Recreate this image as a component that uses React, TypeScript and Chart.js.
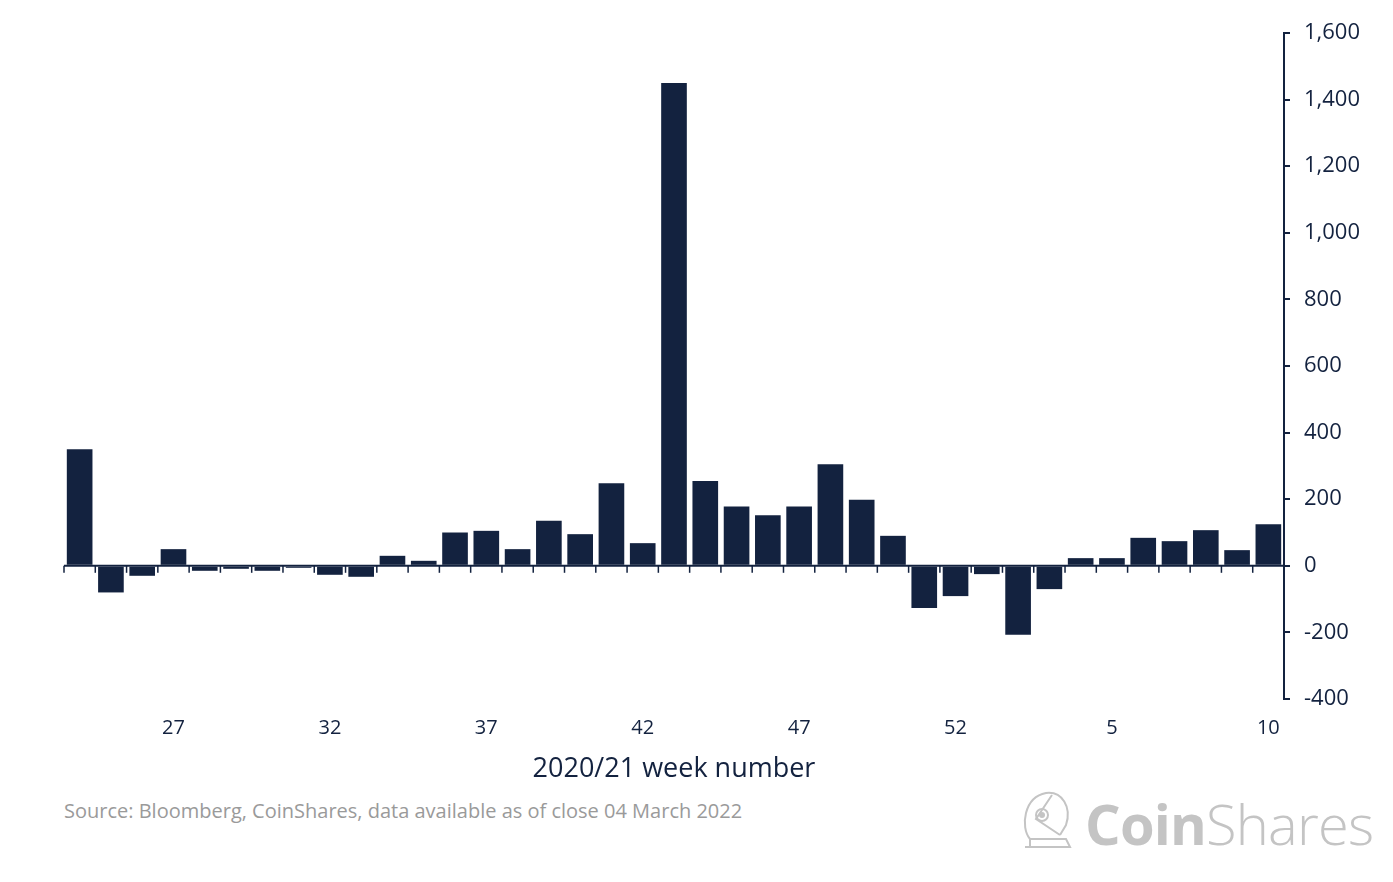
import React, { useEffect, useRef } from "react";
import { Chart, registerables } from "chart.js";

Chart.register(...registerables);

const weeks: string[] = [
  "24", "25", "26", "27", "28", "29", "30", "31", "32", "33", "34", "35", "36",
  "37", "38", "39", "40", "41", "42", "43", "44", "45", "46", "47", "48", "49",
  "50", "51", "52", "1", "2", "3", "4", "5", "6", "7", "8", "9", "10",
];
const flows: number[] = [
  350, -80, -30, 50, -15, -9, -15, -6, -27, -33, 30, 15, 100,
  105, 50, 135, 95, 248, 68, 1450, 255, 178, 152, 178, 305, 198,
  90, -127, -91, -25, -207, -70, 23, 23, 84, 74, 107, 47, 125,
];
const labelledWeeks: string[] = ["27", "32", "37", "42", "47", "52", "5", "10"];
const yTicks: number[] = [-400, -200, 0, 200, 400, 600, 800, 1000, 1200, 1400, 1600];

const NAVY = "#13223f";
const FONT = "'Open Sans', 'DejaVu Sans', sans-serif";

const zeroLinePlugin = {
  id: "zeroLine",
  afterDatasetsDraw(chart: any) {
    const { ctx, chartArea, scales } = chart;
    const x = scales.x;
    const y = scales.y;
    const y0 = y.getPixelForValue(0);
    ctx.save();
    ctx.strokeStyle = NAVY;
    ctx.lineWidth = 2;
    ctx.beginPath();
    ctx.moveTo(chartArea.left, y0);
    ctx.lineTo(chartArea.right, y0);
    ctx.stroke();
    ctx.lineWidth = 1.5;
    for (let i = 0; i <= weeks.length - 1; i++) {
      const px = i === 0 ? chartArea.left : (x.getPixelForValue(i - 1) + x.getPixelForValue(i)) / 2;
      ctx.beginPath();
      ctx.moveTo(px, y0);
      ctx.lineTo(px, y0 + 7);
      ctx.stroke();
    }
    ctx.restore();
  },
};

export default function App() {
  const ref = useRef<HTMLCanvasElement | null>(null);

  useEffect(() => {
    if (!ref.current) return;
    const chart = new Chart(ref.current, {
      type: "bar",
      data: {
        labels: weeks,
        datasets: [
          {
            data: flows,
            backgroundColor: NAVY,
            borderWidth: 0,
            barPercentage: 0.82,
            categoryPercentage: 1,
          },
        ],
      },
      plugins: [zeroLinePlugin],
      options: {
        animation: false,
        responsive: false,
        devicePixelRatio: 1,
        layout: { padding: { top: 33, left: 64, right: 0, bottom: 0 } },
        plugins: { legend: { display: false }, tooltip: { enabled: false } },
        scales: {
          x: {
            grid: { display: false, drawTicks: false },
            border: { display: false },
            afterFit: (s: any) => {
              s.height = 91;
            },
            ticks: {
              autoSkip: false,
              maxRotation: 0,
              padding: 17,
              color: NAVY,
              font: { family: FONT, size: 20 },
              callback: (_v: any, i: number) => (labelledWeeks.includes(weeks[i]) ? weeks[i] : ""),
            },
            title: {
              display: true,
              text: "2020/21 week number",
              color: NAVY,
              font: { family: FONT, size: 27 },
              padding: { top: 0, bottom: 4 },
            },
          },
          y: {
            position: "right",
            min: -400,
            max: 1600,
            afterBuildTicks: (s: any) => {
              s.ticks = yTicks.map((v) => ({ value: v }));
            },
            afterFit: (s: any) => {
              s.width = 109;
            },
            grid: { drawOnChartArea: false, drawTicks: true, tickLength: 6, color: NAVY, lineWidth: 2 },
            border: { display: true, color: NAVY, width: 2 },
            ticks: {
              padding: 14,
              color: NAVY,
              font: { family: FONT, size: 22 },
              callback: (v: any) => Number(v).toLocaleString("en-US"),
            },
          },
        },
      },
    });
    return () => chart.destroy();
  }, []);

  return (
    <div style={{ position: "absolute", left: 0, top: 0, width: 1393, height: 882, background: "#fff", overflow: "hidden" }}>
      <canvas ref={ref} width={1393} height={790} style={{ position: "absolute", left: 0, top: 0, width: 1393, height: 790 }} />
      <div
        style={{
          position: "absolute",
          left: 64,
          top: 797,
          fontFamily: FONT,
          fontSize: 20,
          color: "#9a9a9a",
          whiteSpace: "nowrap",
        }}
      >
        Source: Bloomberg, CoinShares, data available as of close 04 March 2022
      </div>
      <svg style={{ position: "absolute", left: 1022, top: 789 }} width={52} height={62} viewBox="0 0 52 62">
        <g fill="none" stroke="#c4c4c4" strokeWidth={2}>
          <path d="M8 50 C -2 38, 2 8, 24 4 C 40 2, 50 18, 44 36 L 38 46" />
          <path d="M30 6 L 14 30 L 38 46" />
          <circle cx={20} cy={26} r={6} />
          <path d="M3 58 L 48 58 L 44 50 L 8 50 L 8 58" />
        </g>
        <circle cx={20} cy={26} r={3} fill="#c4c4c4" />
      </svg>
      <div
        style={{
          position: "absolute",
          left: 1085,
          top: 790,
          fontFamily: "'Open Sans', sans-serif",
          fontSize: 56,
          lineHeight: "66px",
          color: "#c4c4c4",
          whiteSpace: "nowrap",
          letterSpacing: -0.8,
        }}
      >
        <span style={{ fontWeight: 700 }}>Coin</span>
        <span style={{ fontWeight: 300 }}>Shares</span>
      </div>
    </div>
  );
}
